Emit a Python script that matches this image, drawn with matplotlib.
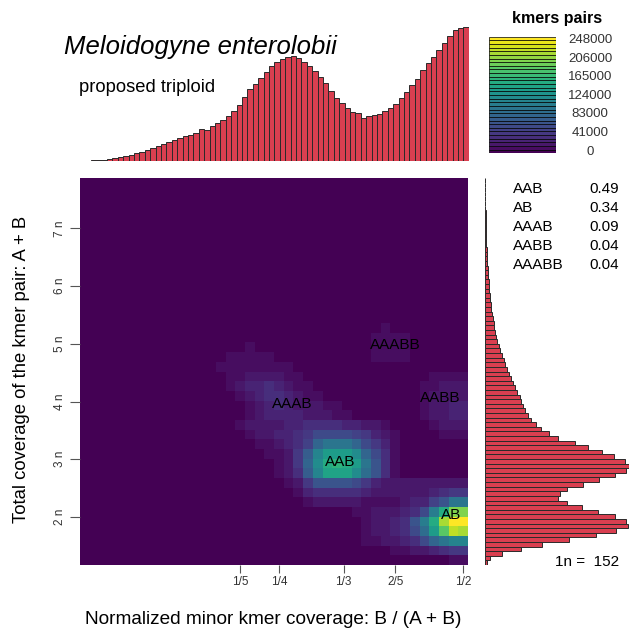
import numpy as np
import matplotlib
matplotlib.use('Agg')
import matplotlib.pyplot as plt
from matplotlib.colors import ListedColormap

plt.rcParams['font.family'] = ['Liberation Sans', 'DejaVu Sans']

# --- data ---
n_cov = 152
nbins = 40
y_lo, y_hi = 1.17, 7.87          # total coverage range, in units of 1n
max_pairs = 248000

# smudge levels (0..31 on the 32-colour viridis ramp), bottom row first, 40 columns
level_chars = "0123456789ABCDEFGHIJKLMNOPQRSTUV"
smudge_rows = [
    "0000000000 0000000000 0000000000 0000000011",
    "0000000000 0000000000 0000000000 0011223455",
    "0000000000 0000000000 0000000001 122347ACEE",
    "0000000000 0000000000 0000000001 22347BHNSR",
    "0000000000 0000000000 0000000001 22348DJRVV",
    "0000000000 0000000000 0000000011 222347DJPP",
    "0000000000 0000000000 0001222221 11123368CC",
    "0000000000 0000000000 0013444443 2222223455",
    "0000000000 0000000000 0125888875 3222222222",
    "0000000000 0000000000 1249EIIIFB 8410000000",
    "0000000000 0000000000 125AFJKJHC 8410000000",
    "0000000000 0000000001 1259EHHHFA 7410000000",
    "0000000000 0000000011 2346ACCCA7 5310000000",
    "0000000000 0000000122 3345777765 3210000111",
    "0000000000 0000001222 2334444332 2100001222",
    "0000000000 0000000123 3332221100 0000012233",
    "0000000000 0000000123 4322211000 0000012233",
    "0000000000 0000001234 4321100000 0000012222",
    "0000000000 0000012334 3211000000 0000011222",
    "0000000000 0000011222 2110000000 0000001111",
    "0000000000 0000111111 1100000000 0000000000",
    "0000000000 0000011111 0000000000 1111000000",
    "0000000000 0000000100 0000000000 1111000000",
    "0000000000 0000000000 0000000000 1111000000",
    "0000000000 0000000000 0000000000 0100000000",
] + ["0000000000 0000000000 0000000000 0000000000"] * 15

smudge_names = ['AAB', 'AB', 'AAAB', 'AABB', 'AAABB']
smudge_props = [0.49, 0.34, 0.09, 0.04, 0.04]
# label positions (bin, n)
smudge_label_x = [26.8, 38.3, 21.9, 37.1, 32.5]
smudge_label_y = [2.95, 2.04, 3.96, 4.06, 4.98]

x_tick_labels = ['1/5', '1/4', '1/3', '2/5', '1/2']
x_tick_fracs = [1/5, 1/4, 1/3, 2/5, 1/2]
y_tick_vals = [2, 3, 4, 5, 6, 7]

# minor coverage histogram (top), 72 bars
minor_hist = [0.2, 0.4, 0.6, 0.9, 1.3, 2, 2.8, 3.8, 4.9, 6.2, 7.6, 9, 10.8, 12.7, 14.7,
              16.7, 18.8, 20.8, 22.8, 24.8, 26.5, 28.5, 32.5, 31.5, 35, 38, 41, 45, 50,
              56, 64, 72, 77, 83, 89, 95, 99.5, 102, 104.5, 105, 103, 99, 95, 90, 84,
              78, 70, 63, 58.5, 53, 49, 48.5, 43.5, 45, 46, 47.5, 50, 53, 57, 63, 69,
              76, 82, 91, 98, 104, 111, 118, 125, 131, 133.5, 134.5]

# total coverage histogram (right), 84 bars, bottom first
total_hist = [2, 5.5, 17, 36, 57, 84, 111, 131, 143, 141, 130, 113, 97, 82, 73, 75, 82,
              98, 114, 130, 141, 144, 140, 129, 117, 103, 90, 73, 64, 56, 51, 46.5, 43,
              40.5, 38, 36.5, 35, 32.5, 30, 28, 26, 24.5, 22.5, 20.5, 19, 17, 15.5, 14,
              12.8, 11.8, 10.8, 9.9, 9, 8.2, 7.5, 6.9, 6.3, 5.8, 5.3, 4.9, 4.5, 4.1,
              3.7, 3.4, 3.1, 2.8, 2.5, 2.3, 2.1, 1.9, 1.7, 1.5, 1.4, 1.3, 1.2, 1.1, 1,
              0.9, 0.8, 0.7, 0.6, 0.5, 0.4, 0.3]

cbar_ticks = [0, 41000, 83000, 124000, 165000, 206000, 248000]

# --- figure ---
W, H = 629, 634
fig = plt.figure(figsize=(W / 100, H / 100), dpi=100)

def box(x0, y0, x1, y1):
    return [x0 / W, 1 - y1 / H, (x1 - x0) / W, (y1 - y0) / H]

cmap = ListedColormap(plt.get_cmap('viridis', 32)(np.arange(32)))
bar_red = '#D93F50'
bar_edge = '#2a2a2a'

# main smudge plot
ax = fig.add_axes(box(80, 178, 468, 565))
levels = np.array([[level_chars.index(ch) for ch in row.replace(' ', '')] for row in smudge_rows])
x_edges = np.arange(nbins + 1)
y_edges = np.linspace(y_lo, y_hi, nbins + 1)
ax.pcolormesh(x_edges, y_edges, levels, cmap=cmap, vmin=-0.5, vmax=31.5)
ax.set_xlim(0, nbins)
ax.set_ylim(y_lo, y_hi)
for s in ax.spines.values():
    s.set_visible(False)
xpos = [min(f * 2 * nbins + 0.5, nbins - 0.5) for f in x_tick_fracs]
ax.set_xticks(xpos, x_tick_labels)
ax.set_yticks(y_tick_vals, [f'{v} n' for v in y_tick_vals])
ax.tick_params(axis='x', length=6, width=0.8, color='#555555', labelsize=8.5,
               labelcolor='#333333', pad=2)
ax.tick_params(axis='y', length=7, width=0.8, color='#555555', labelsize=8.5,
               labelcolor='#333333', pad=3, labelrotation=90)
for lab in ax.get_yticklabels():
    lab.set_va('center')
for name, lx, ly in zip(smudge_names, smudge_label_x, smudge_label_y):
    ax.text(lx, ly, name, fontsize=11, ha='center', va='center', color='black')

# top histogram
axt = fig.add_axes(box(80, 20, 468.8, 161))
axt.bar(np.arange(len(minor_hist)) + 0.5, minor_hist, width=1, color=bar_red,
        edgecolor=bar_edge, linewidth=0.7)
axt.set_xlim(0, len(minor_hist))
axt.set_ylim(0, 141)
axt.axis('off')

# right histogram
axr = fig.add_axes(box(484.5, 178, 629, 565))
axr.barh(np.arange(len(total_hist)) + 0.5, total_hist, height=1, color=bar_red,
         edgecolor=bar_edge, linewidth=0.7)
axr.set_ylim(0, len(total_hist))
axr.set_xlim(0, 144.5)
axr.axis('off')

# colour legend
cax = fig.add_axes(box(489.3, 36.7, 556, 153.3))
c_lo = -(155 - 153.3) / 115 * max_pairs
c_hi = (155 - 36.7) / 115 * max_pairs
step = (c_hi - c_lo) / 32
cax.bar(np.full(32, 0.5), step, bottom=c_lo + np.arange(32) * step, width=1,
        color=cmap(np.arange(32)), edgecolor='black', linewidth=0.5)
cax.set_xlim(0, 1)
cax.set_ylim(c_lo, c_hi)
cax.axis('off')
for v in cbar_ticks:
    cax.text(1.51, v, str(v), fontsize=9.5, ha='center', va='center', color='#333333')

# texts
fig.text(64 / W, 1 - 47 / H, 'Meloidogyne enterolobii', fontsize=18.5, style='italic',
         ha='left', va='center')
fig.text(79 / W, 1 - 87 / H, 'proposed triploid', fontsize=13.2, ha='left', va='center')
fig.text(557 / W, 1 - 18 / H, 'kmers pairs', fontsize=11.5, fontweight='bold',
         ha='center', va='center')
for i, (name, p) in enumerate(zip(smudge_names, smudge_props)):
    yy = 1 - (189 + i * 19) / H
    fig.text(513 / W, yy, name, fontsize=11, ha='left', va='center')
    fig.text(619 / W, yy, f'{p:.2f}', fontsize=11, ha='right', va='center')
fig.text(619 / W, 1 - 562 / H, f'1n =  {n_cov}', fontsize=11, ha='right', va='center')
fig.text(273.5 / W, 1 - 619 / H, 'Normalized minor kmer coverage: B / (A + B)',
         fontsize=13.7, ha='center', va='center')
fig.text(22 / W, 1 - 369 / H, 'Total coverage of the kmer pair: A + B',
         fontsize=13.3, ha='center', va='center', rotation=90)

fig.savefig('out.png', dpi=100)
